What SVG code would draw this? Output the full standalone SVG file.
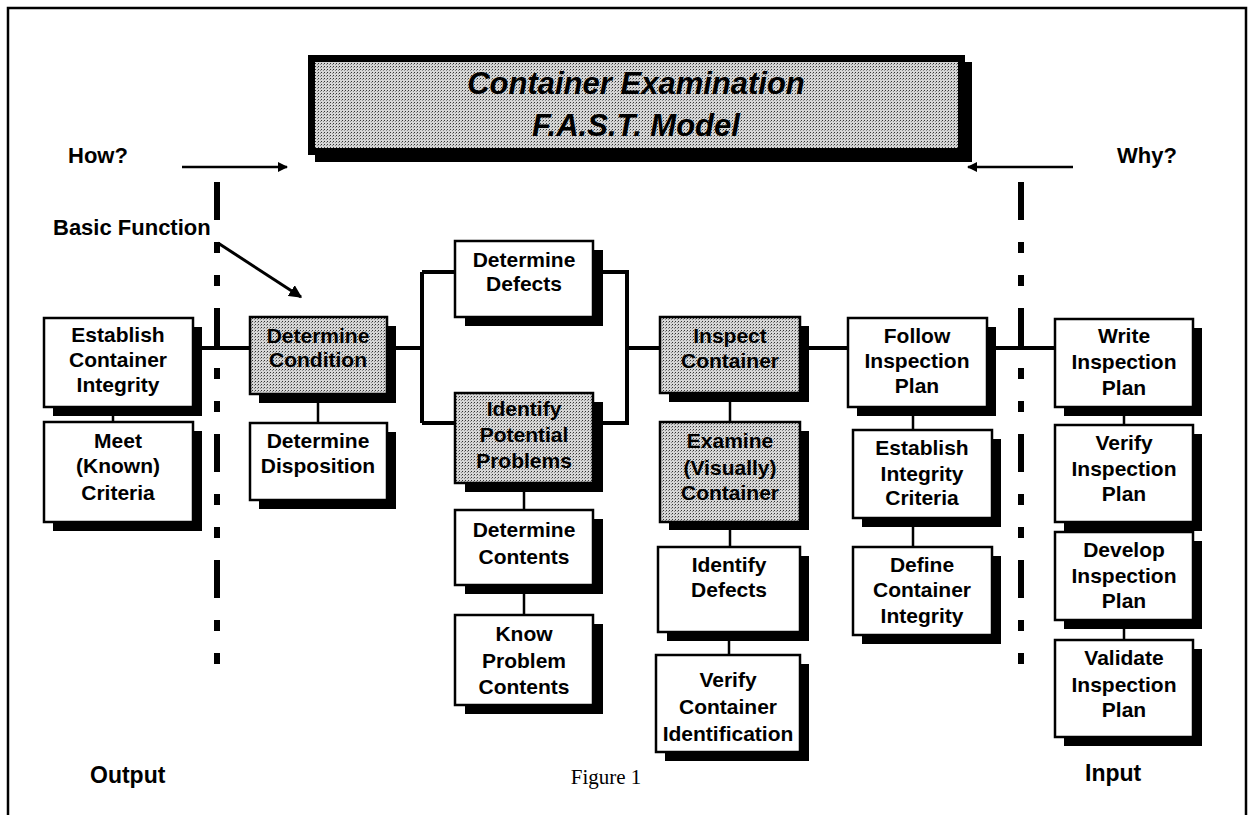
<svg xmlns="http://www.w3.org/2000/svg" width="1254" height="815" viewBox="0 0 1254 815">
<defs>
<pattern id="dither" width="3" height="3" patternUnits="userSpaceOnUse">
<rect width="3" height="3" fill="#d6d6d6"/>
<rect width="1" height="1" fill="#333"/>
<rect x="2" y="1" width="1" height="1" fill="#888"/>
</pattern>
<marker id="ah" viewBox="0 0 10 10" refX="9" refY="5" markerWidth="10" markerHeight="10" markerUnits="userSpaceOnUse" orient="auto">
<path d="M0,0 L10,5 L0,10 z" fill="#000"/>
</marker>
<marker id="ahb" viewBox="0 0 10 10" refX="9" refY="5" markerWidth="13" markerHeight="13" markerUnits="userSpaceOnUse" orient="auto">
<path d="M0,0 L10,5 L0,10 z" fill="#000"/>
</marker>
</defs>
<style>
.box{fill:#fff;stroke:#000;stroke-width:2.5}
.gbox{fill:url(#dither);stroke:#000;stroke-width:2.5}
.sh{fill:#000}
.t{font-family:"Liberation Sans",Arial,sans-serif;font-weight:bold;font-size:21px;text-anchor:middle;fill:#000}
.lbl{font-family:"Liberation Sans",Arial,sans-serif;font-weight:bold;font-size:22px;fill:#000}
.io{font-family:"Liberation Sans",Arial,sans-serif;font-weight:bold;font-size:23px;fill:#000}
.ttl{font-family:"Liberation Sans",Arial,sans-serif;font-weight:bold;font-style:italic;font-size:31px;text-anchor:middle;fill:#000}
.main{stroke:#000;stroke-width:4;fill:none}
.thin{stroke:#000;stroke-width:2.5;fill:none}
.dash{stroke:#000;stroke-width:6;fill:none;stroke-dasharray:38 22 11 22 11 22}
</style>
<rect width="1254" height="815" fill="#fff"/>
<path d="M8,815 V8 H1246 V815" fill="none" stroke="#000" stroke-width="2.5"/>

<g id="title">
<rect x="315" y="62" width="657" height="100" fill="#000"/>
<rect x="308" y="55" width="657" height="100" fill="#000"/>
<rect x="315" y="62" width="643" height="86" fill="url(#dither)"/>
<text class="ttl" x="636" y="94">Container Examination</text>
<text class="ttl" x="636" y="136">F.A.S.T. Model</text>
</g>

<g id="labels">
<text class="lbl" x="68" y="163">How?</text>
<text class="lbl" x="1117" y="163">Why?</text>
<text class="lbl" x="53" y="235">Basic Function</text>
<text class="io" x="90" y="783">Output</text>
<text class="io" x="1085" y="781">Input</text>
<text x="606" y="784" text-anchor="middle" font-family="Liberation Serif, Times New Roman, serif" font-size="21">Figure 1</text>
</g>

<g id="connectors">
<line x1="182" y1="167" x2="287" y2="167" stroke="#000" stroke-width="2.5" marker-end="url(#ah)"/>
<line x1="1073" y1="167" x2="968" y2="167" stroke="#000" stroke-width="2.5" marker-end="url(#ah)"/>
<line x1="218" y1="243" x2="301" y2="297" stroke="#000" stroke-width="3" marker-end="url(#ahb)"/>
<line class="dash" x1="217" y1="182" x2="217" y2="668"/>
<line class="dash" x1="1021" y1="182" x2="1021" y2="668"/>
<path class="main" d="M193,348 H250 M387,348 H422 M422,272 V423 M422,272 H455 M422,423 H455 M593,272 H627 V423 H593 M627,348 H660 M800,348 H848 M987,348 H1055"/>
<path class="thin" d="M113,407 V422 M318,394 V423 M524,483 V510 M524,585 V615 M730,393 V423 M730,522 V547 M729,632 V655 M913,407 V430 M913,518 V547 M1124,407 V425 M1124,522 V532 M1124,620 V640"/>
</g>

<g id="n-establish"><rect class="sh" x="53" y="327" width="149" height="89"/><rect class="box" x="44" y="318" width="149" height="89"/><text class="t" x="118" y="342">Establish</text><text class="t" x="118" y="367">Container</text><text class="t" x="118" y="392">Integrity</text></g>
<g id="n-meet"><rect class="sh" x="53" y="431" width="149" height="100"/><rect class="box" x="44" y="422" width="149" height="100"/><text class="t" x="118" y="448">Meet</text><text class="t" x="118" y="473">(Known)</text><text class="t" x="118" y="500">Criteria</text></g>
<g id="n-detcond"><rect class="sh" x="259" y="326" width="137" height="77"/><rect class="gbox" x="250" y="317" width="137" height="77"/><text class="t" x="318" y="343">Determine</text><text class="t" x="318" y="367">Condition</text></g>
<g id="n-detdisp"><rect class="sh" x="259" y="432" width="137" height="77"/><rect class="box" x="250" y="423" width="137" height="77"/><text class="t" x="318" y="448">Determine</text><text class="t" x="318" y="473">Disposition</text></g>
<g id="n-detdef"><rect class="sh" x="465" y="250" width="138" height="76"/><rect class="box" x="455" y="241" width="138" height="76"/><text class="t" x="524" y="267">Determine</text><text class="t" x="524" y="291">Defects</text></g>
<g id="n-idpot"><rect class="sh" x="465" y="402" width="138" height="90"/><rect class="gbox" x="455" y="393" width="138" height="90"/><text class="t" x="524" y="416">Identify</text><text class="t" x="524" y="442">Potential</text><text class="t" x="524" y="468">Problems</text></g>
<g id="n-detcont"><rect class="sh" x="465" y="519" width="138" height="75"/><rect class="box" x="455" y="510" width="138" height="75"/><text class="t" x="524" y="537">Determine</text><text class="t" x="524" y="564">Contents</text></g>
<g id="n-know"><rect class="sh" x="465" y="624" width="138" height="90"/><rect class="box" x="455" y="615" width="138" height="90"/><text class="t" x="524" y="641">Know</text><text class="t" x="524" y="668">Problem</text><text class="t" x="524" y="694">Contents</text></g>
<g id="n-inspect"><rect class="sh" x="669" y="326" width="140" height="76"/><rect class="gbox" x="660" y="317" width="140" height="76"/><text class="t" x="730" y="343">Inspect</text><text class="t" x="730" y="368">Container</text></g>
<g id="n-examine"><rect class="sh" x="669" y="431" width="140" height="99"/><rect class="gbox" x="660" y="422" width="140" height="100"/><text class="t" x="730" y="448">Examine</text><text class="t" x="730" y="475">(Visually)</text><text class="t" x="730" y="500">Container</text></g>
<g id="n-iddef"><rect class="sh" x="667" y="556" width="142" height="85"/><rect class="box" x="658" y="547" width="142" height="85"/><text class="t" x="729" y="572">Identify</text><text class="t" x="729" y="597">Defects</text></g>
<g id="n-verifycont"><rect class="sh" x="665" y="664" width="144" height="97"/><rect class="box" x="656" y="655" width="144" height="97"/><text class="t" x="728" y="687">Verify</text><text class="t" x="728" y="714">Container</text><text class="t" x="728" y="741">Identification</text></g>
<g id="n-follow"><rect class="sh" x="857" y="327" width="139" height="89"/><rect class="box" x="848" y="318" width="139" height="89"/><text class="t" x="917" y="343">Follow</text><text class="t" x="917" y="368">Inspection</text><text class="t" x="917" y="393">Plan</text></g>
<g id="n-estint"><rect class="sh" x="862" y="439" width="139" height="88"/><rect class="box" x="853" y="430" width="139" height="88"/><text class="t" x="922" y="455">Establish</text><text class="t" x="922" y="481">Integrity</text><text class="t" x="922" y="505">Criteria</text></g>
<g id="n-define"><rect class="sh" x="862" y="556" width="139" height="88"/><rect class="box" x="853" y="547" width="139" height="88"/><text class="t" x="922" y="572">Define</text><text class="t" x="922" y="597">Container</text><text class="t" x="922" y="623">Integrity</text></g>
<g id="n-write"><rect class="sh" x="1064" y="328" width="138" height="88"/><rect class="box" x="1055" y="319" width="138" height="88"/><text class="t" x="1124" y="343">Write</text><text class="t" x="1124" y="369">Inspection</text><text class="t" x="1124" y="395">Plan</text></g>
<g id="n-verifyplan"><rect class="sh" x="1064" y="434" width="138" height="97"/><rect class="box" x="1055" y="425" width="138" height="97"/><text class="t" x="1124" y="450">Verify</text><text class="t" x="1124" y="476">Inspection</text><text class="t" x="1124" y="501">Plan</text></g>
<g id="n-develop"><rect class="sh" x="1064" y="541" width="138" height="88"/><rect class="box" x="1055" y="532" width="138" height="88"/><text class="t" x="1124" y="557">Develop</text><text class="t" x="1124" y="583">Inspection</text><text class="t" x="1124" y="608">Plan</text></g>
<g id="n-validate"><rect class="sh" x="1064" y="649" width="138" height="97"/><rect class="box" x="1055" y="640" width="138" height="97"/><text class="t" x="1124" y="665">Validate</text><text class="t" x="1124" y="692">Inspection</text><text class="t" x="1124" y="717">Plan</text></g>
</svg>
